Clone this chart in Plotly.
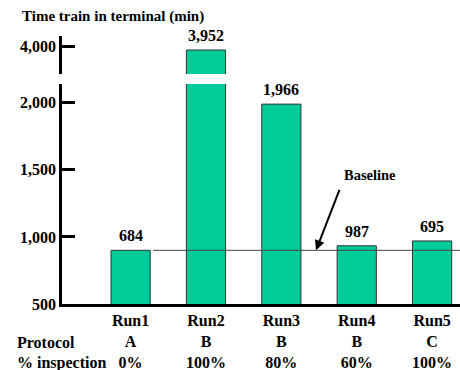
import plotly.graph_objects as go

runs = ["Run1", "Run2", "Run3", "Run4", "Run5"]
protocol = ["A", "B", "B", "B", "C"]
inspection = ["0%", "100%", "80%", "60%", "100%"]
label_values = [684, 3952, 1966, 987, 695]
bar_heights = [900, 3952, 1990, 934, 970]
baseline = 900
lower_ticks = [500, 1000, 1500, 2000]
upper_ticks = [4000]

FONT = "Liberation Serif, Times New Roman, Times, serif"
BAR_COLOR = "#00CC99"

def f(size=16):
    return dict(family=FONT, size=size, color="black", weight="bold")

fig = go.Figure()
for yax in ["y", "y2"]:
    fig.add_trace(go.Bar(
        x=runs, y=bar_heights, yaxis=yax, xaxis="x",
        marker=dict(color=BAR_COLOR, line=dict(color="#333333", width=1)),
        width=0.52, hoverinfo="skip", showlegend=False,
    ))

ticktext = [f"{r}<br>{p}<br>{i}" for r, p, i in zip(runs, protocol, inspection)]

yax_common = dict(
    ticks="inside", ticklen=13, tickwidth=2.5, tickcolor="black",
    showline=True, linewidth=2.5, linecolor="black",
    showgrid=False, zeroline=False, tickfont=f(), anchor="x",
    tickmode="array",
)

fig.update_layout(
    width=460, height=370,
    margin=dict(l=62, r=0, t=36, b=66),
    paper_bgcolor="white", plot_bgcolor="white",
    font=f(),
    xaxis=dict(
        type="category", range=[-0.91, 4.37], anchor="y",
        tickmode="array", tickvals=runs, ticktext=ticktext,
        showline=True, linewidth=2.5, linecolor="black",
        ticks="", showgrid=False, zeroline=False, tickfont=f(),
    ),
    yaxis=dict(domain=[0, 0.8209], range=[500, 2140], tickvals=lower_ticks,
               ticktext=[f"{v:,}" for v in lower_ticks], **yax_common),
    yaxis2=dict(domain=[0.8582, 1], range=[3664, 4120], tickvals=upper_ticks,
                ticktext=[f"{v:,}" for v in upper_ticks], **yax_common),
)

# data labels
for r, h, v in zip(runs, bar_heights, label_values):
    yref = "y2" if h > 2140 else "y"
    fig.add_annotation(x=r, y=h, xref="x", yref=yref, text=f"{v:,}",
                       showarrow=False, yanchor="bottom", yshift=4, font=f())

# baseline
fig.add_shape(type="line", xref="x", yref="y", x0=0.3, x1=4.37,
              y0=baseline, y1=baseline, line=dict(color="#444444", width=1),
              layer="above")
fig.add_annotation(x=2.46, y=baseline, xref="x", yref="y", text="",
                   showarrow=True, ax=24, ay=-62, arrowhead=2, arrowsize=1,
                   arrowwidth=2, arrowcolor="black")
fig.add_annotation(x=(370 - 62) / 398, y=(304 - 175) / 268, xref="paper", yref="paper",
                   text="Baseline", showarrow=False, xanchor="center", yanchor="middle",
                   font=f(14.5))

# title and row labels
fig.add_annotation(x=-0.1055, y=1.0746, xref="paper", yref="paper",
                   text="Time train in terminal (min)", showarrow=False,
                   xanchor="left", yanchor="middle", font=f(15))
fig.add_annotation(x=-0.118, y=-0.1455, xref="paper", yref="paper",
                   text="Protocol", showarrow=False, xanchor="left", yanchor="middle",
                   font=f())
fig.add_annotation(x=-0.118, y=-0.220, xref="paper", yref="paper",
                   text="% inspection", showarrow=False, xanchor="left", yanchor="middle",
                   font=f())

fig.write_html("out.html")
